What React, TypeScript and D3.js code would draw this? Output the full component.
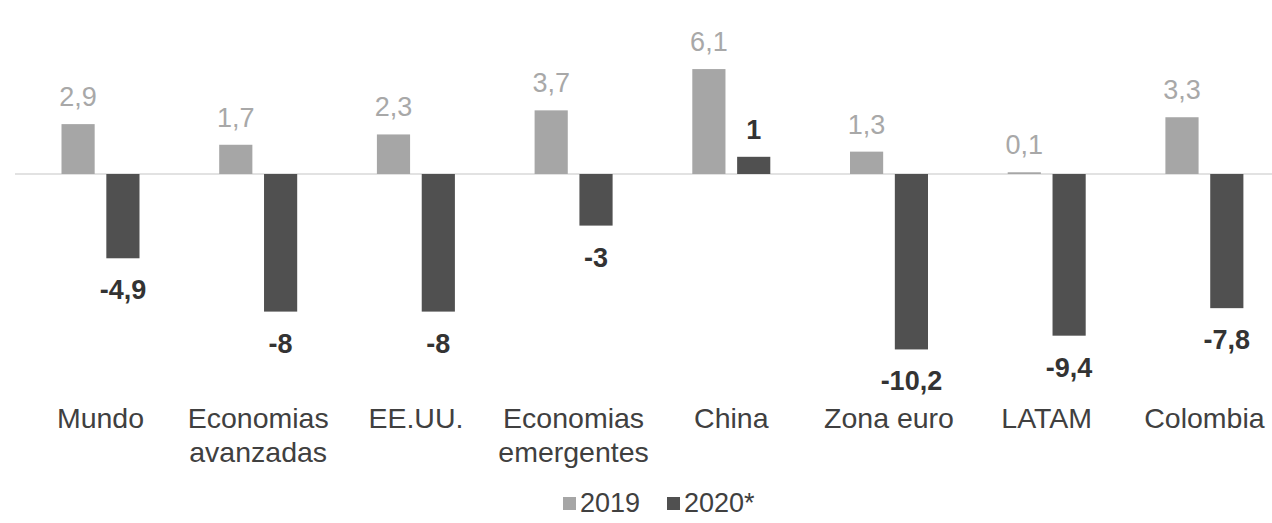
import React, { useEffect, useRef } from "react";
import * as d3 from "d3";

// Crecimiento del PIB (%) - 2019 vs 2020 (proyección)
const categories = [
  "Mundo",
  "Economias avanzadas",
  "EE.UU.",
  "Economias emergentes",
  "China",
  "Zona euro",
  "LATAM",
  "Colombia",
];
const categoryLines = [
  ["Mundo"],
  ["Economias", "avanzadas"],
  ["EE.UU."],
  ["Economias", "emergentes"],
  ["China"],
  ["Zona euro"],
  ["LATAM"],
  ["Colombia"],
];
const values2019 = [2.9, 1.7, 2.3, 3.7, 6.1, 1.3, 0.1, 3.3];
const values2020 = [-4.9, -8, -8, -3, 1, -10.2, -9.4, -7.8];
const seriesNames = ["2019", "2020*"];

const fmt = (v: number) => String(v).replace(".", ",");

const App: React.FC = () => {
  const svgRef = useRef<SVGSVGElement>(null);

  useEffect(() => {
    if (!svgRef.current) return;
    const width = 1272;
    const height = 523;
    const font = "'Liberation Sans', Arial, sans-serif";

    const svg = d3.select(svgRef.current);
    svg.selectAll("*").remove();
    svg.attr("width", width).attr("height", height);

    svg.append("rect").attr("width", width).attr("height", height).attr("fill", "#fff");

    // scales
    const step = 157.7;
    const x0 = d3
      .scaleBand()
      .domain(categories)
      .range([100.5 - step / 2, 100.5 - step / 2 + step * categories.length])
      .paddingInner(0)
      .paddingOuter(0);

    const x1 = d3
      .scaleBand()
      .domain(seriesNames)
      .range([step / 2 - 39, step / 2 + 39])
      .paddingInner(0.26)
      .paddingOuter(0);

    const y = d3.scaleLinear().domain([-12, 8]).range([380.4, 36.4]);

    const colors = { "2019": "#a6a6a6", "2020*": "#505050" } as Record<string, string>;

    // zero line
    svg
      .append("line")
      .attr("x1", 15)
      .attr("x2", width)
      .attr("y1", y(0))
      .attr("y2", y(0))
      .attr("stroke", "#d9d9d9")
      .attr("stroke-width", 1.5);

    const data = categories.flatMap((c, i) => [
      { cat: c, series: "2019", value: values2019[i] },
      { cat: c, series: "2020*", value: values2020[i] },
    ]);

    const g = svg.append("g");

    g.selectAll(".bar")
      .data(data)
      .enter()
      .append("rect")
      .attr("class", "bar")
      .attr("x", (d) => (x0(d.cat) || 0) + (x1(d.series) || 0))
      .attr("width", x1.bandwidth())
      .attr("y", (d) => y(Math.max(0, d.value)))
      .attr("height", (d) => Math.abs(y(d.value) - y(0)))
      .attr("fill", (d) => colors[d.series]);

    g.selectAll(".bar-label")
      .data(data)
      .enter()
      .append("text")
      .attr("class", "bar-label")
      .attr("x", (d) => (x0(d.cat) || 0) + (x1(d.series) || 0) + x1.bandwidth() / 2)
      .attr("y", (d) => (d.value >= 0 ? y(d.value) - 18 : y(d.value) + 41))
      .attr("text-anchor", "middle")
      .style("font-family", font)
      .style("font-size", "27px")
      .style("font-weight", (d) => (d.series === "2019" ? "normal" : "bold"))
      .style("fill", (d) => (d.series === "2019" ? "#a8a8a8" : "#333333"))
      .text((d) => fmt(d.value));

    // category labels
    const labels = svg
      .append("g")
      .selectAll("text")
      .data(categories)
      .enter()
      .append("text")
      .attr("x", (d) => (x0(d) || 0) + x0.bandwidth() / 2)
      .attr("y", 428)
      .attr("text-anchor", "middle")
      .style("font-family", font)
      .style("font-size", "28.5px")
      .style("fill", "#404040");

    labels.each(function (d, i) {
      const t = d3.select(this);
      categoryLines[i].forEach((line, j) => {
        t.append("tspan")
          .attr("x", (x0(d) || 0) + x0.bandwidth() / 2)
          .attr("dy", j === 0 ? 0 : 34)
          .text(line);
      });
    });

    // legend
    const legend = svg.append("g");
    const legendItems = [
      { name: seriesNames[0], x: 563 },
      { name: seriesNames[1], x: 667 },
    ];
    legendItems.forEach((it) => {
      legend
        .append("rect")
        .attr("x", it.x)
        .attr("y", 497)
        .attr("width", 13)
        .attr("height", 13)
        .attr("fill", colors[it.name]);
      legend
        .append("text")
        .attr("x", it.x + 17)
        .attr("y", 512)
        .style("font-family", font)
        .style("font-size", "27px")
        .style("fill", "#404040")
        .text(it.name);
    });
  }, []);

  return (
    <svg
      ref={svgRef}
      style={{ position: "absolute", left: 0, top: 0, display: "block" }}
    ></svg>
  );
};

export default App;
